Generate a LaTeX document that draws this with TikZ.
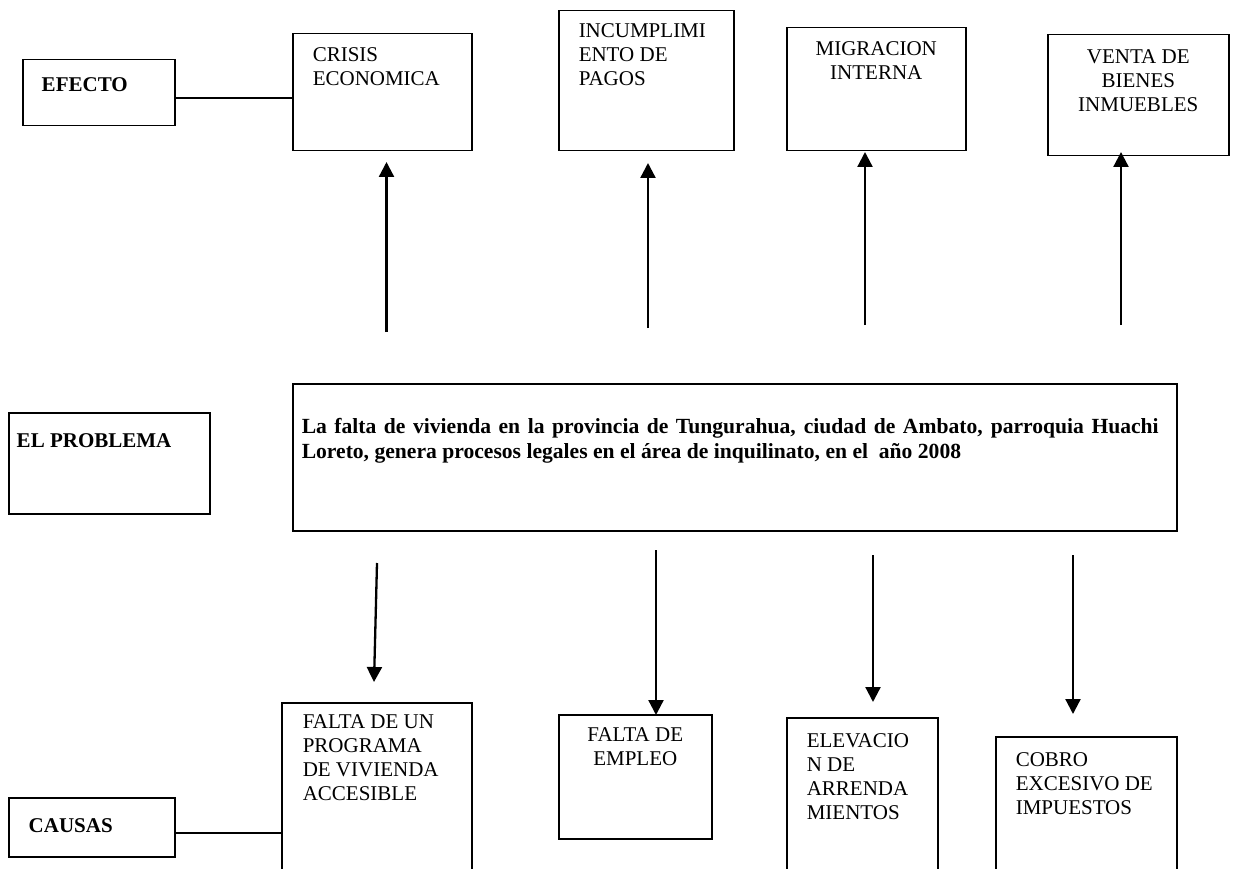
\documentclass[tikz,border=0pt]{standalone}
\usepackage{fontspec}
\setmainfont{Liberation Serif}
\usetikzlibrary{arrows.meta}
% #1 width, #2 height, #3 left pad, #4 top pad, #5 column spec, #6 content
\newcommand{\bc}[6]{\parbox[c][#2][t]{#1}{\vspace*{#4}\hspace*{#3}\begin{tabular}[t]{@{}#5@{}}#6\end{tabular}}}
\newcommand{\bcc}[5]{\parbox[c][#2][t]{#1}{\vspace*{#3}\centering\begin{tabular}[t]{@{}#4@{}}#5\end{tabular}\par}}
\begin{document}
\begin{tikzpicture}[x=1pt,y=-1pt,
  box/.style={draw, line width=1.5pt, anchor=north west, inner sep=0pt,
    font=\fontsize{21}{24}\selectfont},
  lbl/.style={box, font=\fontsize{21}{24}\selectfont\bfseries},
  arr/.style={line width=2.3pt, -{Triangle[width=15pt,length=15pt]}},
  link/.style={line width=2pt}]
\useasboundingbox (0,0) rectangle (1237,869);

% left labels
\node[lbl] (efecto) at (22,59) {\bc{152pt}{66pt}{19pt}{15pt}{l}{EFECTO}};
\node[lbl] (elprob) at (8,412) {\bc{201pt}{101pt}{8pt}{18pt}{l}{EL PROBLEMA}};
\node[lbl] (causas) at (8,797) {\bc{166pt}{59pt}{20pt}{18pt}{l}{CAUSAS}};

% effects
\node[box] (crisis) at (292,33) {\bc{179pt}{117pt}{20pt}{11pt}{l}{CRISIS\\ECONOMICA}};
\node[box] (incump) at (558,10) {\bc{175pt}{140pt}{20pt}{10pt}{l}{INCUMPLIMI\\ENTO DE\\PAGOS}};
\node[box] (migra) at (786,27) {\bcc{179pt}{123pt}{11pt}{c}{MIGRACION\\INTERNA}};
\node[box] (venta) at (1047,34) {\bcc{181pt}{121pt}{12pt}{c}{VENTA DE\\BIENES\\INMUEBLES}};

% problem
\node[box, font=\fontsize{21.6}{25}\selectfont\bfseries] (prob) at (292,383)
  {\bc{884pt}{147pt}{9pt}{32.5pt}{l}{\makebox[857pt][s]{La falta de vivienda en la provincia de Tungurahua, ciudad de Ambato, parroquia Huachi}\\
   Loreto, genera procesos legales en el área de inquilinato, en el\ \ año 2008}};

% causes
\node[box] (falprog) at (281,702) {\bc{190pt}{183pt}{21pt}{9pt}{l}{FALTA DE UN\\PROGRAMA\\DE VIVIENDA\\ACCESIBLE}};
\node[box] (falemp) at (558,714) {\bcc{153pt}{124pt}{10pt}{c}{FALTA DE\\EMPLEO}};
\node[box] (elev) at (786,717) {\bc{151pt}{175pt}{20pt}{13pt}{l}{ELEVACIO\\N DE\\ARRENDA\\MIENTOS}};
\node[box] (cobro) at (995,736) {\bc{181pt}{144pt}{20pt}{13pt}{l}{COBRO\\EXCESIVO DE\\IMPUESTOS}};

% side links
\draw[link] ([yshift=-5pt]efecto.east) -- ([yshift=-5pt]efecto.east -| crisis.west);
\draw[link] ([yshift=-6pt]causas.east) -- ([yshift=-6pt]causas.east -| falprog.west);

% arrow end points
\coordinate (u1s) at (386.5,332); \coordinate (u1e) at (386.5,162);
\coordinate (u2s) at (648,328);   \coordinate (u2e) at (648,163);
\coordinate (u3s) at (865,325);   \coordinate (u3e) at (865,152);
\coordinate (u4s) at (1121,325);  \coordinate (u4e) at (1121,152);
\coordinate (d1s) at (377,563);   \coordinate (d1e) at (374,682);
\coordinate (d2s) at (656,550);   \coordinate (d2e) at (656,715);
\coordinate (d3s) at (873,555);   \coordinate (d3e) at (873,702);
\coordinate (d4s) at (1073,555);  \coordinate (d4e) at (1073,714);

\draw[arr] (u1s) -- (u1e);
\draw[arr] (u2s) -- (u2e);
\draw[arr] (u3s) -- (u3e);
\draw[arr] (u4s) -- (u4e);
\draw[arr] (d1s) -- (d1e);
\draw[arr] (d2s) -- (d2e);
\draw[arr] (d3s) -- (d3e);
\draw[arr] (d4s) -- (d4e);
\end{tikzpicture}
\end{document}
